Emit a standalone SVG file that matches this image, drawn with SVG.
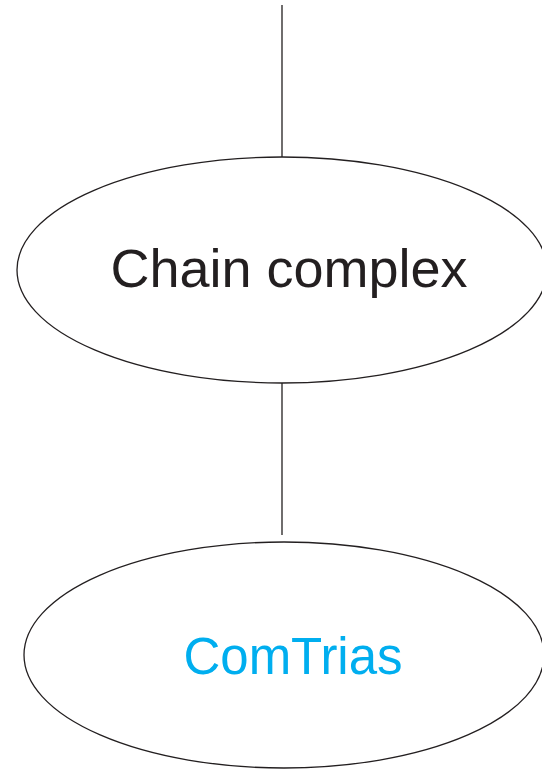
<svg xmlns="http://www.w3.org/2000/svg" width="542" height="769" viewBox="0 0 542 769">
  <style>
    .node { fill: #ffffff; stroke: #231f20; stroke-width: 1.3; }
    .edge { stroke: #231f20; stroke-width: 1.3; fill: none; }
    .label { font-family: "Liberation Sans", Arial, sans-serif; text-anchor: middle; }
  </style>
  <rect width="542" height="769" fill="#ffffff"/>
  <g id="connectors">
    <line class="edge" x1="282" y1="5" x2="282" y2="157"/>
    <line class="edge" x1="282" y1="383" x2="282" y2="535"/>
  </g>
  <g id="chain-complex">
    <ellipse class="node" cx="282" cy="270" rx="265" ry="113"/>
    <text class="label" x="289" y="287" font-size="54" fill="#231f20">Chain complex</text>
  </g>
  <g id="comtrias">
    <ellipse class="node" cx="284" cy="655" rx="260" ry="113"/>
    <text class="label" x="293" y="674" font-size="51" fill="#00aeef">ComTrias</text>
  </g>
</svg>
